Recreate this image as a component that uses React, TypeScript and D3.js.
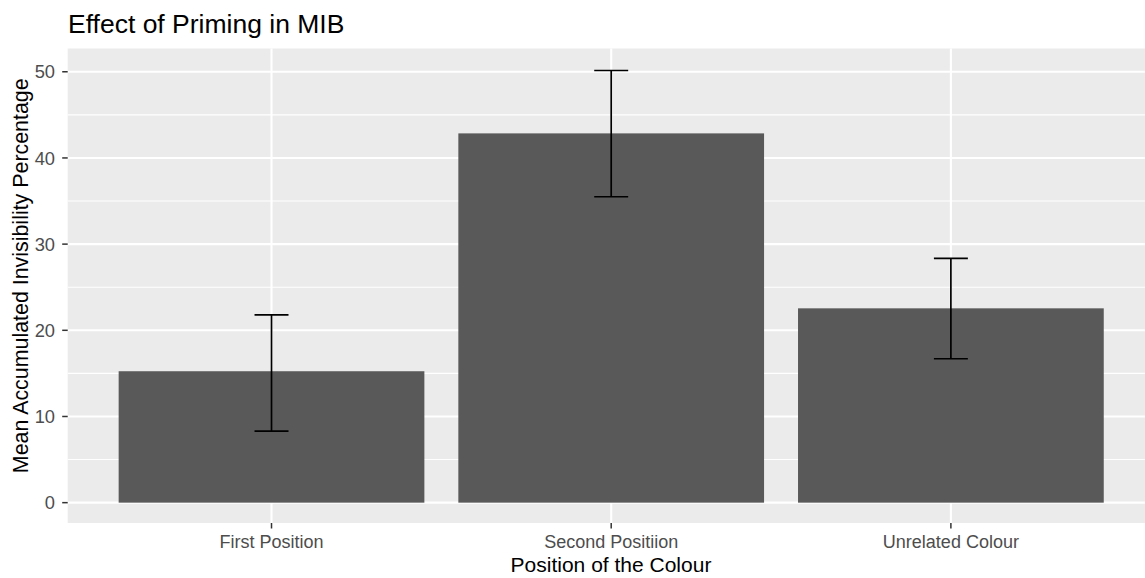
import React from "react";
import * as d3 from "d3";

const categories = ["First Position", "Second Positiion", "Unrelated Colour"];
const means = [15.25, 42.85, 22.55];
const lowers = [8.3, 35.5, 16.7];
const uppers = [21.8, 50.15, 28.35];
const yTicks = [0, 10, 20, 30, 40, 50];
const yMinor = [5, 15, 25, 35, 45];

const W = 1145;
const H = 578;
const panel = { left: 67.7, right: 1154.7, top: 48.5, bottom: 523 };
const FONT = "'Liberation Sans', Arial, sans-serif";

export default function App() {
  const x = d3
    .scaleBand<string>()
    .domain(categories)
    .range([panel.left, panel.right])
    .paddingInner(0.1)
    .paddingOuter(0.15);
  const y = d3.scaleLinear().domain([-2.36, 52.7]).range([panel.bottom, panel.top]);
  const step = x.step();
  const ebHalf = step * 0.05;

  return (
    <svg
      width={W}
      height={H}
      style={{ position: "absolute", left: 0, top: 0, display: "block" }}
      fontFamily={FONT}
    >
      <rect x={0} y={0} width={W} height={H} fill="#ffffff" />
      <rect
        x={panel.left}
        y={panel.top}
        width={panel.right - panel.left}
        height={panel.bottom - panel.top}
        fill="#EBEBEB"
      />
      {yMinor.map((t) => (
        <line key={"mn" + t} x1={panel.left} x2={panel.right} y1={y(t)} y2={y(t)} stroke="#fff" strokeWidth={1.1} />
      ))}
      {yTicks.map((t) => (
        <line key={"mj" + t} x1={panel.left} x2={panel.right} y1={y(t)} y2={y(t)} stroke="#fff" strokeWidth={2.1} />
      ))}
      {categories.map((c) => {
        const cx = (x(c) as number) + x.bandwidth() / 2;
        return <line key={"v" + c} x1={cx} x2={cx} y1={panel.top} y2={panel.bottom} stroke="#fff" strokeWidth={2.1} />;
      })}
      {categories.map((c, i) => (
        <rect
          key={"b" + c}
          x={x(c) as number}
          y={y(means[i])}
          width={x.bandwidth()}
          height={y(0) - y(means[i])}
          fill="#595959"
        />
      ))}
      {categories.map((c, i) => {
        const cx = (x(c) as number) + x.bandwidth() / 2;
        return (
          <g key={"e" + c} stroke="#000" strokeWidth={1.7} fill="none">
            <line x1={cx} x2={cx} y1={y(uppers[i])} y2={y(lowers[i])} />
            <line x1={cx - ebHalf} x2={cx + ebHalf} y1={y(uppers[i])} y2={y(uppers[i])} />
            <line x1={cx - ebHalf} x2={cx + ebHalf} y1={y(lowers[i])} y2={y(lowers[i])} />
          </g>
        );
      })}
      {yTicks.map((t) => (
        <g key={"yt" + t}>
          <line x1={panel.left - 5.5} x2={panel.left} y1={y(t)} y2={y(t)} stroke="#333" strokeWidth={1.5} />
          <text x={55} y={y(t)} dy="0.36em" textAnchor="end" fontSize={18.3} fill="#4D4D4D">
            {t}
          </text>
        </g>
      ))}
      {categories.map((c) => {
        const cx = (x(c) as number) + x.bandwidth() / 2;
        return (
          <g key={"xt" + c}>
            <line x1={cx} x2={cx} y1={panel.bottom} y2={panel.bottom + 5.5} stroke="#333" strokeWidth={1.5} />
            <text x={cx} y={547.5} textAnchor="middle" fontSize={18} fill="#4D4D4D">
              {c}
            </text>
          </g>
        );
      })}
      <text x={611} y={572} textAnchor="middle" fontSize={21} fill="#000">
        Position of the Colour
      </text>
      <text
        transform={`translate(27.5, ${(panel.top + panel.bottom) / 2 - 10}) rotate(-90)`}
        textAnchor="middle"
        fontSize={21.4}
        fill="#000"
      >
        Mean Accumulated Invisibility Percentage
      </text>
      <text x={68} y={33} fontSize={26.5} fill="#000">
        Effect of Priming in MIB
      </text>
    </svg>
  );
}
